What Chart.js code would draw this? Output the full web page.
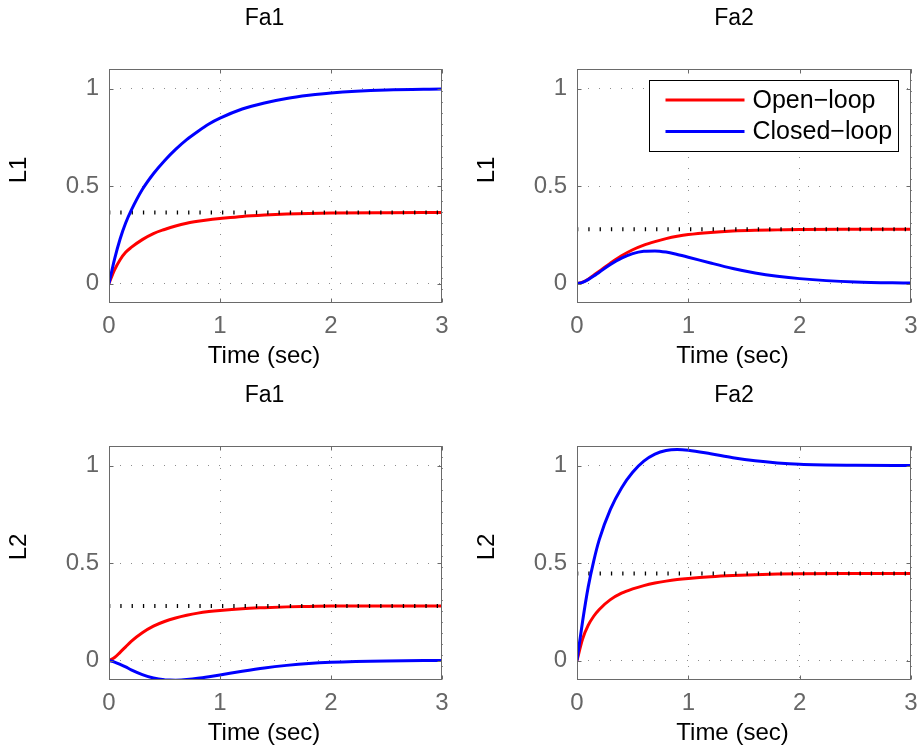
<!DOCTYPE html>
<html>
<head>
<meta charset="utf-8">
<title>Step responses</title>
<script src="https://cdn.jsdelivr.net/npm/chart.js@4.4.1/dist/chart.umd.min.js"></script>
<style>
  html, body { margin: 0; padding: 0; background: #ffffff; }
  #page { position: relative; width: 918px; height: 749px; overflow: hidden; }
  #page canvas { position: absolute; }
</style>
</head>
<body>
<div id="page">
  <canvas id="fa1L1" width="459" height="372" style="left:0px;top:0px"></canvas>
  <canvas id="fa2L1" width="459" height="372" style="left:459px;top:0px"></canvas>
  <canvas id="fa1L2" width="459" height="372" style="left:0px;top:377px"></canvas>
  <canvas id="fa2L2" width="459" height="372" style="left:459px;top:377px"></canvas>
</div>
<script>
const timeSec = [0, 0.05, 0.1, 0.15, 0.2, 0.3, 0.4, 0.5, 0.6, 0.7, 0.8, 0.9, 1.0, 1.2, 1.4, 1.6, 1.8, 2.0, 2.5, 3.0];

const xTicks = [0, 1, 2, 3];
const yTicks = [0, 0.5, 1];
const yTickLabels = ['0', '0.5', '1'];
const seriesNames = ['Open\u2212loop', 'Closed\u2212loop'];

// Fa1 -> L1
const openFa1L1   = [0, 0.07, 0.122, 0.16, 0.185, 0.225, 0.256, 0.277, 0.295, 0.309, 0.319, 0.327, 0.333, 0.344, 0.351, 0.356, 0.359, 0.361, 0.363, 0.364];
const closedFa1L1 = [0, 0.125, 0.228, 0.31, 0.375, 0.482, 0.563, 0.63, 0.688, 0.738, 0.78, 0.818, 0.848, 0.895, 0.926, 0.949, 0.965, 0.977, 0.992, 0.997];
const finalFa1L1  = 0.364;

// Fa2 -> L1
const openFa2L1   = [0, 0.007, 0.022, 0.042, 0.063, 0.104, 0.142, 0.173, 0.197, 0.215, 0.23, 0.242, 0.251, 0.262, 0.269, 0.273, 0.275, 0.277, 0.278, 0.278];
const closedFa2L1 = [0, 0.006, 0.02, 0.038, 0.058, 0.097, 0.13, 0.153, 0.165, 0.167, 0.161, 0.149, 0.135, 0.105, 0.077, 0.054, 0.037, 0.025, 0.008, 0.002];
const finalFa2L1  = 0.278;

// Fa1 -> L2
const openFa1L2   = [0, 0.015, 0.042, 0.07, 0.098, 0.142, 0.176, 0.2, 0.218, 0.232, 0.243, 0.251, 0.257, 0.266, 0.271, 0.275, 0.277, 0.279, 0.28, 0.28];
const closedFa1L2 = [0, -0.008, -0.02, -0.033, -0.048, -0.072, -0.09, -0.099, -0.101, -0.097, -0.091, -0.083, -0.074, -0.055, -0.038, -0.025, -0.015, -0.009, -0.002, 0];
const finalFa1L2  = 0.28;

// Fa2 -> L2
const openFa2L2   = [0, 0.11, 0.18, 0.227, 0.262, 0.312, 0.345, 0.367, 0.384, 0.397, 0.407, 0.415, 0.421, 0.43, 0.436, 0.44, 0.443, 0.445, 0.446, 0.446];
const closedFa2L2 = [0, 0.2, 0.375, 0.51, 0.62, 0.775, 0.885, 0.965, 1.022, 1.058, 1.077, 1.082, 1.078, 1.06, 1.04, 1.024, 1.013, 1.006, 1.001, 1.0];
const finalFa2L2  = 0.446;

const fontFamily = '"Liberation Sans", Arial, Helvetica, sans-serif';
const grayText = '#666666';
const frameColor = '#6a6a6a';
const gridColor = '#8c8c8c';

function toPoints(values) {
  return timeSec.map((t, i) => ({ x: t, y: values[i] }));
}

// box, inner ticks, titles and the boxed legend the way matlab draws them
const matlabAxes = {
  id: 'matlabAxes',
  afterDatasetsDraw(chart, args, opts) {
    const ctx = chart.ctx;
    const a = chart.chartArea;
    const left = Math.round(a.left) + 0.5;
    const right = Math.round(a.right) - 0.5;
    const top = Math.round(a.top) + 0.5;
    const bottom = Math.round(a.bottom) - 0.5;
    const xs = chart.scales.x;
    const ys = chart.scales.y;

    ctx.save();
    ctx.strokeStyle = frameColor;
    ctx.lineWidth = 1;
    ctx.beginPath();
    xTicks.forEach(v => {
      const px = Math.round(xs.getPixelForValue(v)) + 0.5;
      ctx.moveTo(px, bottom); ctx.lineTo(px, bottom - 4);
      ctx.moveTo(px, top); ctx.lineTo(px, top + 4);
    });
    yTicks.forEach(v => {
      const py = Math.round(ys.getPixelForValue(v)) + 0.5;
      ctx.moveTo(left, py); ctx.lineTo(left + 4, py);
      ctx.moveTo(right, py); ctx.lineTo(right - 4, py);
    });
    ctx.stroke();
    ctx.strokeRect(left, top, right - left, bottom - top);

    ctx.fillStyle = '#000000';
    ctx.textAlign = 'center';
    ctx.textBaseline = 'middle';
    ctx.font = '23px ' + fontFamily;
    ctx.fillText(opts.title, opts.titleX, opts.titleY);
    ctx.font = '24px ' + fontFamily;
    ctx.fillText(opts.xLabel, opts.xLabelX, opts.xLabelY);
    ctx.save();
    ctx.translate(opts.yLabelX, opts.yLabelY);
    ctx.rotate(-Math.PI / 2);
    ctx.fillText(opts.yLabel, 0, 0);
    ctx.restore();

    if (opts.legend) {
      const lg = opts.legend;
      ctx.fillStyle = '#ffffff';
      ctx.fillRect(lg.x, lg.y, lg.w, lg.h);
      ctx.strokeStyle = '#000000';
      ctx.strokeRect(lg.x, lg.y, lg.w, lg.h);
      ctx.font = '25px ' + fontFamily;
      ctx.textAlign = 'left';
      const items = chart.data.datasets.filter(d => d.label);
      items.forEach((d, i) => {
        const y = lg.y + 19.5 + i * 31.5;
        ctx.strokeStyle = d.borderColor;
        ctx.lineWidth = 3;
        ctx.beginPath();
        ctx.moveTo(lg.x + 16, y);
        ctx.lineTo(lg.x + 95, y);
        ctx.stroke();
        ctx.fillStyle = '#000000';
        ctx.fillText(d.label, lg.x + 103, y + 1);
      });
    }
    ctx.restore();
  }
};

function buildPanel(id, open, closed, finalValue, labels, frame) {
  return new Chart(document.getElementById(id), {
    type: 'line',
    data: {
      datasets: [
        { label: seriesNames[0], data: toPoints(open), borderColor: '#ff0000', order: 2 },
        { label: seriesNames[1], data: toPoints(closed), borderColor: '#0000ff', order: 0 },
        {
          label: '', data: [{ x: 0, y: finalValue }, { x: 3, y: finalValue }],
          borderColor: '#000000', borderWidth: 4, borderDash: [1.3, 10], tension: 0, order: 1
        }
      ]
    },
    options: {
      responsive: false,
      animation: false,
      events: [],
      layout: { padding: { top: 69, right: frame.right, left: 0, bottom: 0 } },
      elements: {
        point: { radius: 0 },
        line: { borderWidth: 3, tension: 0.4, cubicInterpolationMode: 'monotone', borderCapStyle: 'butt', fill: false }
      },
      datasets: { line: { clip: 0 } },
      plugins: {
        legend: { display: false },
        tooltip: { enabled: false },
        title: { display: false },
        matlabAxes: labels
      },
      scales: {
        x: {
          type: 'linear', min: 0, max: 3,
          afterBuildTicks: s => { s.ticks = xTicks.map(v => ({ value: v })); },
          afterFit: s => { s.height = 69; s.paddingLeft = 0; s.paddingRight = 0; },
          grid: { color: gridColor, lineWidth: 1, drawTicks: false },
          border: { display: false, dash: [1, 10] },
          ticks: {
            color: grayText, padding: 9, maxRotation: 0, autoSkip: false,
            font: { family: fontFamily, size: 24 },
            callback: v => String(v)
          }
        },
        y: {
          type: 'linear', min: -0.1, max: 1.1,
          afterBuildTicks: s => { s.ticks = yTicks.map(v => ({ value: v })); },
          afterFit: s => { s.width = frame.left; s.paddingTop = 0; s.paddingBottom = 0; },
          grid: { color: gridColor, lineWidth: 1, drawTicks: false },
          border: { display: false, dash: [1, 10] },
          ticks: {
            color: grayText, padding: 10, autoSkip: false,
            font: { family: fontFamily, size: 24 },
            callback: v => yTickLabels[yTicks.indexOf(v)]
          }
        }
      }
    },
    plugins: [matlabAxes]
  });
}

const leftFrame = { left: 109, right: 17 };
const rightFrame = { left: 118, right: 7 };

buildPanel('fa1L1', openFa1L1, closedFa1L1, finalFa1L1,
  { title: 'Fa1', titleX: 264.5, titleY: 18.5, xLabel: 'Time (sec)', xLabelX: 264, xLabelY: 356.5, yLabel: 'L1', yLabelX: 19, yLabelY: 170 },
  leftFrame);
buildPanel('fa2L1', openFa2L1, closedFa2L1, finalFa2L1,
  { title: 'Fa2', titleX: 275, titleY: 18.5, xLabel: 'Time (sec)', xLabelX: 273.5, xLabelY: 356.5, yLabel: 'L1', yLabelX: 28.5, yLabelY: 170,
    legend: { x: 190.5, y: 80.5, w: 249, h: 71 } },
  rightFrame);
buildPanel('fa1L2', openFa1L2, closedFa1L2, finalFa1L2,
  { title: 'Fa1', titleX: 264.5, titleY: 18.5, xLabel: 'Time (sec)', xLabelX: 264, xLabelY: 356.5, yLabel: 'L2', yLabelX: 19, yLabelY: 170 },
  leftFrame);
buildPanel('fa2L2', openFa2L2, closedFa2L2, finalFa2L2,
  { title: 'Fa2', titleX: 275, titleY: 18.5, xLabel: 'Time (sec)', xLabelX: 273.5, xLabelY: 356.5, yLabel: 'L2', yLabelX: 28.5, yLabelY: 170 },
  rightFrame);
</script>
</body>
</html>
